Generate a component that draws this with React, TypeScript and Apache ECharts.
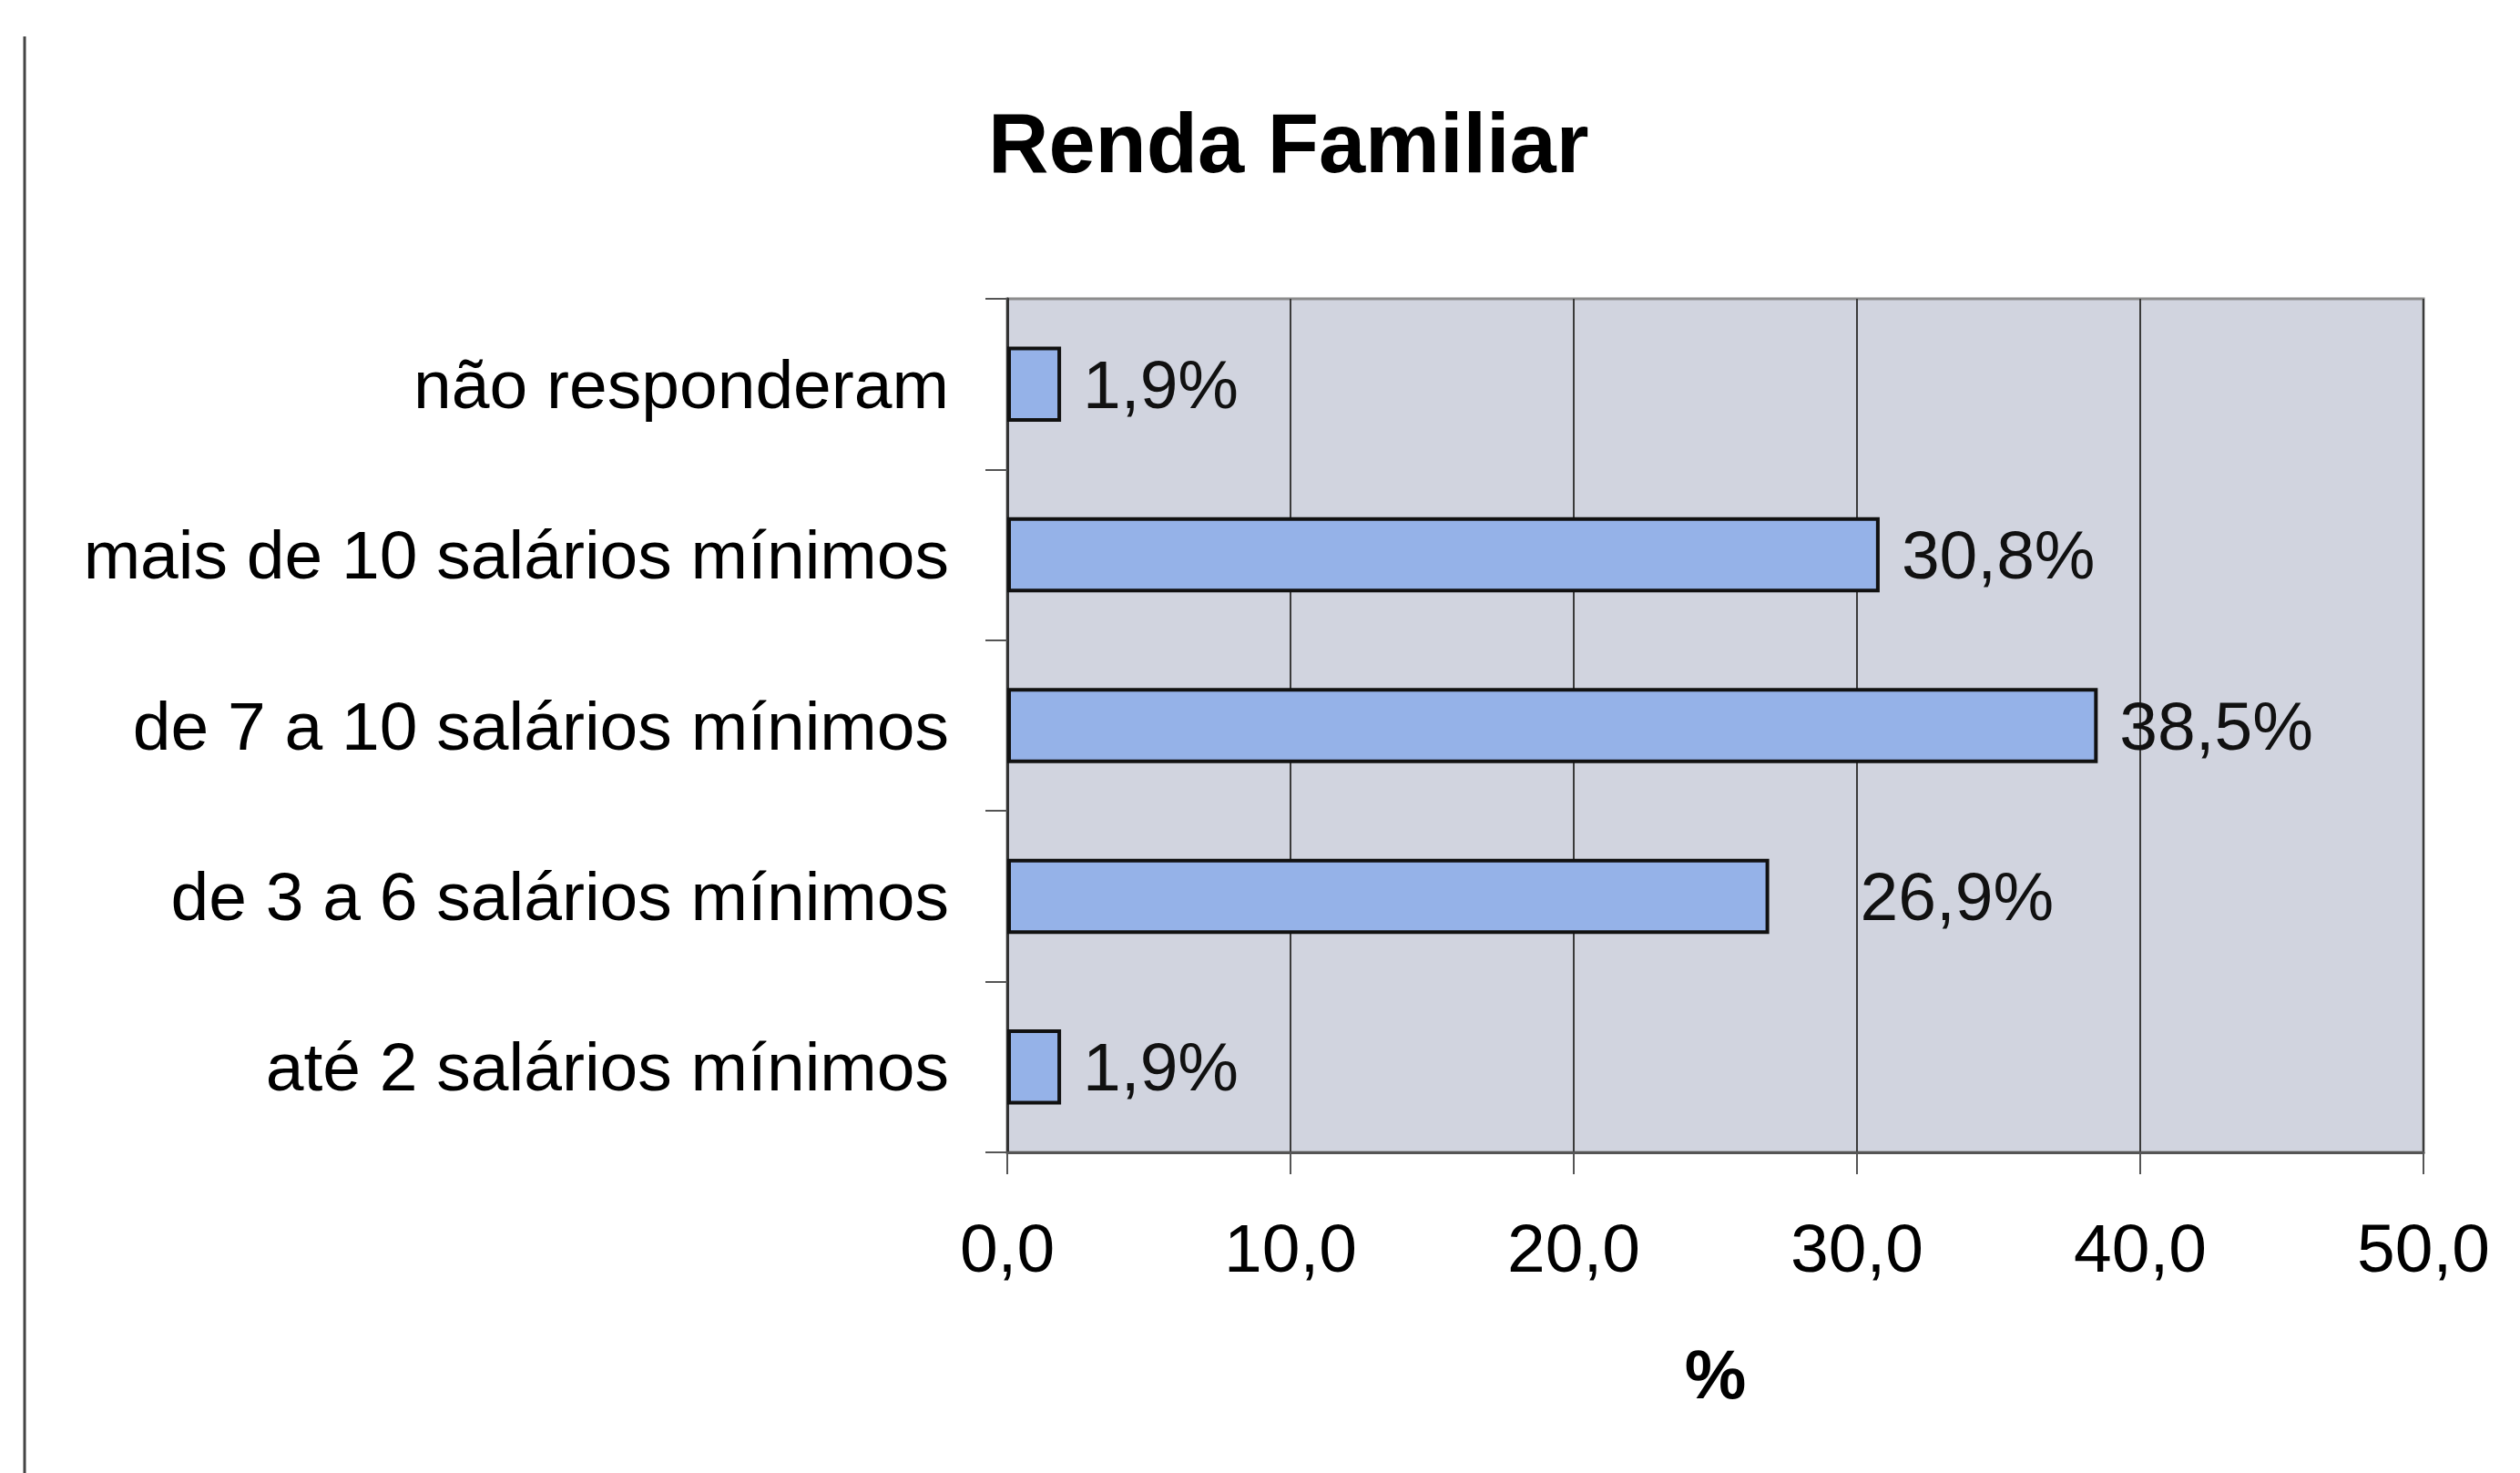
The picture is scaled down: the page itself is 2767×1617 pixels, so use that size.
import React, { useEffect, useRef } from "react";
import * as echarts from "echarts";

const title = "Renda Familiar";
const categories = [
  "até 2 salários mínimos",
  "de 3 a 6 salários mínimos",
  "de 7 a 10 salários mínimos",
  "mais de 10 salários mínimos",
  "não responderam",
];
const values = [1.9, 26.9, 38.5, 30.8, 1.9];
const xTicks = { min: 0, max: 50, interval: 10 };
const axisName = "%";

const FONT = "'Liberation Sans', Arial, Helvetica, sans-serif";
const fmtNum = (v: number, d: number) => v.toFixed(d).replace(".", ",");

export default function App() {
  const ref = useRef<HTMLDivElement>(null);
  useEffect(() => {
    if (!ref.current) return;
    const chart = echarts.init(ref.current, null, { renderer: "svg" });
    const labelOffsets: Record<number, [number, number]> = { 1: [76, 0] };
    chart.setOption({
      animation: false,
      backgroundColor: "#ffffff",
      textStyle: { fontFamily: FONT },
      title: {
        text: title,
        left: 1080,
        top: 106,
        textStyle: { fontFamily: FONT, fontSize: 92, fontWeight: "bold", color: "#000" },
      },
      grid: {
        left: 1106,
        right: 106,
        top: 328,
        bottom: 352,
        show: true,
        backgroundColor: "#D1D4DF",
        borderColor: "#8c8c8c",
        borderWidth: 3,
      },
      xAxis: {
        type: "value",
        min: xTicks.min,
        max: xTicks.max,
        interval: xTicks.interval,
        name: axisName,
        nameLocation: "middle",
        nameGap: 205,
        nameTextStyle: { fontFamily: FONT, fontSize: 76, fontWeight: "bold", color: "#000" },
        axisLine: { show: true, lineStyle: { color: "#555", width: 3 } },
        axisTick: { show: true, length: 24, lineStyle: { color: "#555", width: 2 } },
        splitLine: { show: true, lineStyle: { color: "#3a3a3a", width: 2 } },
        axisLabel: {
          fontFamily: FONT,
          fontSize: 75,
          color: "#000",
          margin: 67,
          formatter: (v: number) => fmtNum(v, 1),
        },
      },
      yAxis: {
        type: "category",
        data: categories,
        axisLine: { show: true, lineStyle: { color: "#333", width: 3 } },
        axisTick: { show: true, length: 24, lineStyle: { color: "#555", width: 2 } },
        splitLine: { show: false },
        axisLabel: { fontFamily: FONT, fontSize: 75, color: "#000", margin: 64 },
      },
      series: [
        {
          type: "bar",
          barWidth: "44%",
          data: values.map((v, i) => ({
            value: v,
            label: labelOffsets[i] ? { offset: labelOffsets[i] } : undefined,
          })),
          itemStyle: { color: "#95B2E8", borderColor: "#111", borderWidth: 4 },
          label: {
            show: true,
            position: "right",
            distance: 24,
            fontFamily: FONT,
            fontSize: 75,
            color: "#111",
            formatter: (p: any) => fmtNum(p.value, 1) + "%",
          },
        },
      ],
      graphic: [
        {
          type: "line",
          shape: { x1: 27, y1: 40, x2: 27, y2: 1617 },
          style: { stroke: "#444", lineWidth: 3 },
        },
      ],
    });
    return () => chart.dispose();
  }, []);
  return (
    <div
      ref={ref}
      style={{ position: "fixed", left: 0, top: 0, width: 2767, height: 1617 }}
    />
  );
}
